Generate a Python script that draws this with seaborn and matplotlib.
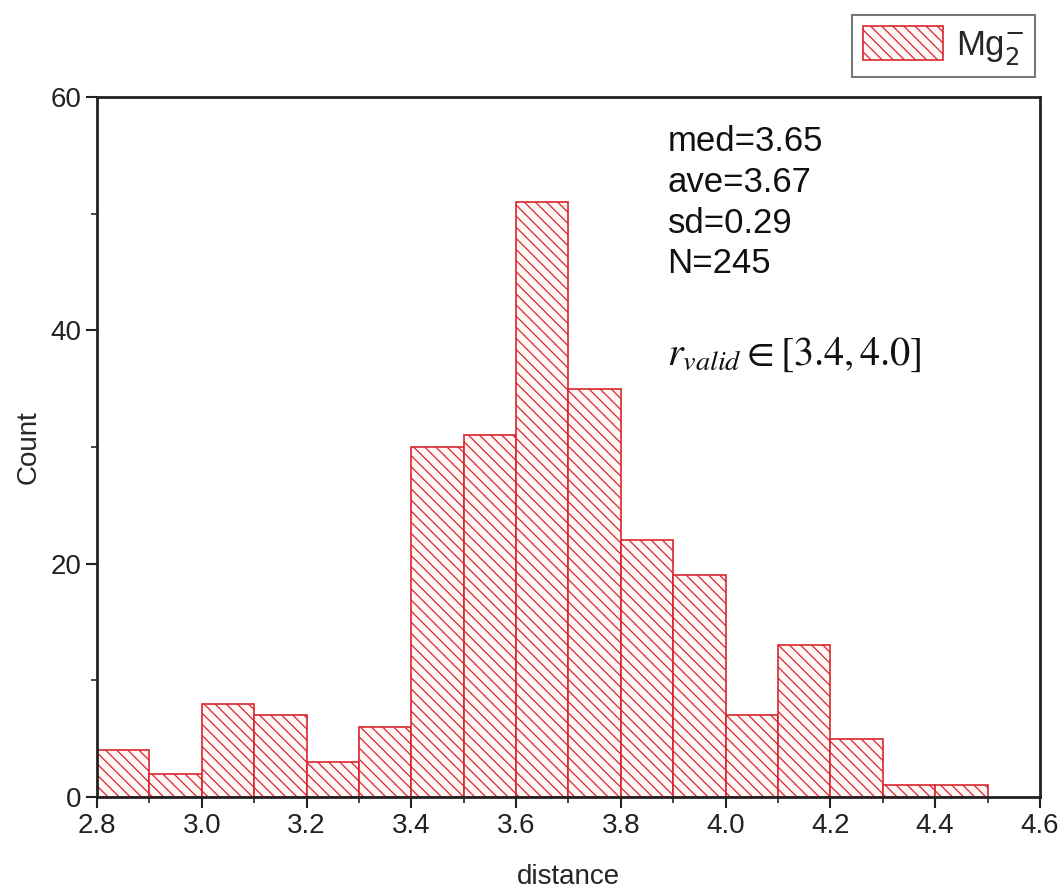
import matplotlib
matplotlib.use("Agg")
import matplotlib.pyplot as plt
import numpy as np
import pandas as pd
import seaborn as sns

# histogram: left edge of each 0.1-wide bin and its count
bin_lefts = [2.8, 2.9, 3.0, 3.1, 3.2, 3.3, 3.4, 3.5, 3.6, 3.7, 3.8, 3.9, 4.0, 4.1, 4.2, 4.3, 4.4]
counts = [4, 2, 8, 7, 3, 6, 30, 31, 51, 35, 22, 19, 7, 13, 5, 1, 1]
bin_width = 0.1
stats_lines = ["med=3.65", "ave=3.67", "sd=0.29", "N=245"]
x_ticks = [2.8, 3.0, 3.2, 3.4, 3.6, 3.8, 4.0, 4.2, 4.4, 4.6]
y_ticks = [0, 20, 40, 60]

sns.set_theme(style="ticks")
plt.rcParams["font.family"] = ["Liberation Sans", "DejaVu Sans"]
plt.rcParams["hatch.linewidth"] = 0.9

df = pd.DataFrame({"distance": np.array(bin_lefts) + bin_width / 2, "count": counts})
edges = [round(v, 2) for v in bin_lefts] + [round(bin_lefts[-1] + bin_width, 2)]

fig = plt.figure(figsize=(10.63, 8.9), dpi=100)
ax = fig.add_axes([0.0913, 0.1045, 0.887, 0.7865])

sns.histplot(data=df, x="distance", weights="count", bins=edges, ax=ax,
             color="white", edgecolor="#d9262d", linewidth=1.2, alpha=1.0,
             label="Mg$_2^{-}$")
for p in ax.patches:
    p.set_hatch("\\\\\\")
    p.set_facecolor("#fff6f6")

ax.set_xlim(2.8, 4.6)
ax.set_ylim(0, 60)
ax.set_xticks(x_ticks)
ax.set_xticklabels([f"{v:.1f}" for v in x_ticks])
ax.set_yticks(y_ticks)
ax.set_xticks(np.arange(2.9, 4.6, 0.2), minor=True)
ax.set_yticks([10, 30, 50], minor=True)
ax.tick_params(which="major", direction="out", length=8, width=1.5, labelsize=20, colors="#222222")
ax.tick_params(which="minor", direction="out", length=4, width=1.2)
for s in ax.spines.values():
    s.set_linewidth(2)
    s.set_color("#222222")
    s.set_visible(True)

ax.set_xlabel("distance", fontsize=20, labelpad=18)
ax.set_ylabel("Count", fontsize=20, labelpad=6)

ax.text(0.605, 0.96, "\n".join(stats_lines), transform=ax.transAxes,
        fontsize=25, va="top", ha="left", linespacing=1.3, color="#111111")
ax.text(0.605, 0.631, r"$r_{valid} \in \left[3.4, 4.0\right]$", transform=ax.transAxes,
        fontsize=29, va="center", ha="left", math_fontfamily="stix", color="#111111")

leg = ax.legend(loc="upper right", bbox_to_anchor=(0.995, 1.117), fontsize=25,
                frameon=True, fancybox=False, handlelength=2.3, handleheight=1.15,
                borderpad=0.3, handletextpad=0.4, borderaxespad=0.0)
leg.get_frame().set_edgecolor("#555555")
leg.get_frame().set_linewidth(1.5)

fig.savefig("out.png", dpi=100)
